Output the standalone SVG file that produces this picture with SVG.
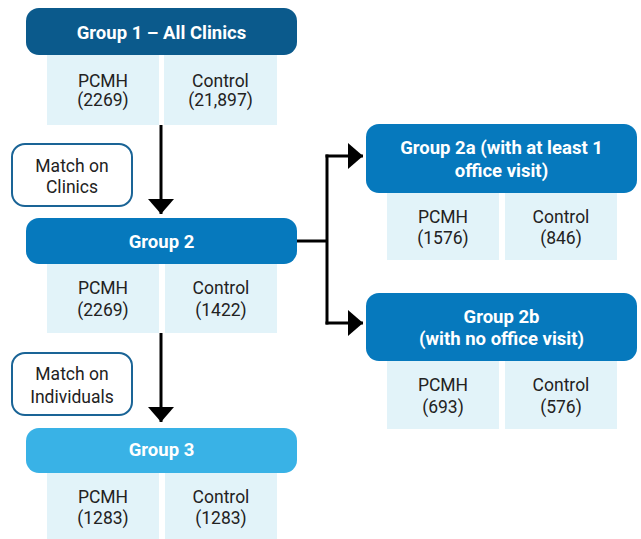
<svg xmlns="http://www.w3.org/2000/svg" width="641" height="539" viewBox="0 0 641 539">
<defs>
<marker id="ah" markerUnits="userSpaceOnUse" markerWidth="16" markerHeight="26" refX="15" refY="13" orient="auto">
<polygon points="0,0 15,13 0,26" fill="#000"/>
</marker>
<style>
.hd1{fill:#0b5a8c}
.hd2{fill:#0679bd}
.hd3{fill:#39b2e6}
.cell{fill:#e2f3f9}
.match{fill:#fff;stroke:#1a6496;stroke-width:2}
.tt{font-family:Roboto,"Liberation Sans",sans-serif;font-weight:bold;font-size:18.5px;fill:#fff;text-anchor:middle}
.ct{font-family:Roboto,"Liberation Sans",sans-serif;font-size:17.5px;fill:#222;text-anchor:middle}
.ln{fill:none;stroke:#000;stroke-width:3}
</style>
</defs>
<rect width="641" height="539" fill="#fff"/>
<g id="connectors">
<path class="ln" d="M161,125 V214" marker-end="url(#ah)"/>
<path class="ln" d="M161,333 V422" marker-end="url(#ah)"/>
<path class="ln" d="M297,241 H327"/>
<path class="ln" d="M327,154.5 V324.5"/>
<path class="ln" d="M325.5,156 H363" marker-end="url(#ah)"/>
<path class="ln" d="M325.5,323 H363" marker-end="url(#ah)"/>
</g>
<g id="group1">
<rect class="cell" x="47" y="55" width="112" height="70"/>
<rect class="cell" x="164" y="55" width="113" height="70"/>
<rect class="hd1" x="26" y="8" width="271" height="47" rx="13"/>
<text class="tt" x="161.5" y="39">Group 1 – All Clinics</text>
<text class="ct" x="103" y="87">PCMH</text>
<text class="ct" x="103" y="106">(2269)</text>
<text class="ct" x="220.5" y="87">Control</text>
<text class="ct" x="220.5" y="106">(21,897)</text>
</g>
<g id="match-clinics">
<rect class="match" x="12" y="144" width="120" height="62" rx="13"/>
<text class="ct" x="72" y="172">Match on</text>
<text class="ct" x="72" y="193">Clinics</text>
</g>
<g id="group2">
<rect class="cell" x="47" y="264" width="112" height="69"/>
<rect class="cell" x="165" y="264" width="112" height="69"/>
<rect class="hd2" x="26" y="218" width="271" height="46" rx="13"/>
<text class="tt" x="161.5" y="248">Group 2</text>
<text class="ct" x="103" y="294">PCMH</text>
<text class="ct" x="103" y="316">(2269)</text>
<text class="ct" x="221" y="294">Control</text>
<text class="ct" x="221" y="316">(1422)</text>
</g>
<g id="group2a">
<rect class="cell" x="387" y="193" width="112" height="67"/>
<rect class="cell" x="505" y="193" width="112" height="67"/>
<rect class="hd2" x="366" y="124" width="271" height="69" rx="13"/>
<text class="tt" x="501.5" y="154">Group 2a (with at least 1</text>
<text class="tt" x="501.5" y="177">office visit)</text>
<text class="ct" x="443" y="223">PCMH</text>
<text class="ct" x="443" y="244">(1576)</text>
<text class="ct" x="561" y="223">Control</text>
<text class="ct" x="561" y="244">(846)</text>
</g>
<g id="group2b">
<rect class="cell" x="387" y="361" width="112" height="68"/>
<rect class="cell" x="505" y="361" width="112" height="68"/>
<rect class="hd2" x="366" y="293" width="271" height="68" rx="13"/>
<text class="tt" x="501.5" y="323">Group 2b</text>
<text class="tt" x="501.5" y="345">(with no office visit)</text>
<text class="ct" x="443" y="391">PCMH</text>
<text class="ct" x="443" y="413">(693)</text>
<text class="ct" x="561" y="391">Control</text>
<text class="ct" x="561" y="413">(576)</text>
</g>
<g id="match-individuals">
<rect class="match" x="12" y="353" width="120" height="62" rx="13"/>
<text class="ct" x="72" y="380">Match on</text>
<text class="ct" x="72" y="403">Individuals</text>
</g>
<g id="group3">
<rect class="cell" x="47" y="473" width="112" height="66"/>
<rect class="cell" x="165" y="473" width="112" height="66"/>
<rect class="hd3" x="26" y="428" width="271" height="45" rx="13"/>
<text class="tt" x="161.5" y="456">Group 3</text>
<text class="ct" x="103" y="503">PCMH</text>
<text class="ct" x="103" y="524">(1283)</text>
<text class="ct" x="221" y="503">Control</text>
<text class="ct" x="221" y="524">(1283)</text>
</g>
</svg>
